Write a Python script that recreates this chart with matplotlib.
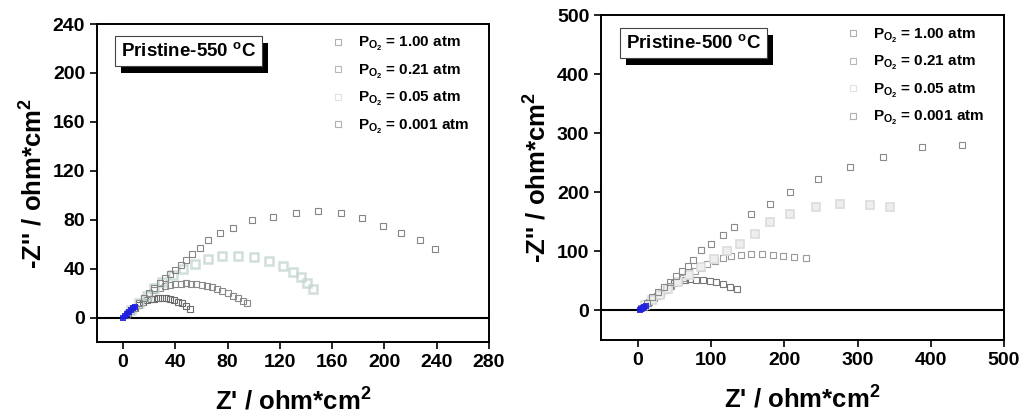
import numpy as np
import matplotlib.pyplot as plt
from matplotlib import patheffects

plt.rcParams['font.family'] = 'Liberation Sans'
plt.rcParams['font.weight'] = 'bold'
plt.rcParams['mathtext.fontset'] = 'custom'
plt.rcParams['mathtext.rm'] = 'Liberation Sans:bold'
plt.rcParams['mathtext.it'] = 'Liberation Sans:bold'
plt.rcParams['mathtext.bf'] = 'Liberation Sans:bold'

labels = [r'$P_{O_2}$ = 1.00 atm', r'$P_{O_2}$ = 0.21 atm',
          r'$P_{O_2}$ = 0.05 atm', r'$P_{O_2}$ = 0.001 atm']

# Pristine-550 C
x550_100 = [3, 6, 9, 12, 15, 18, 21, 24, 27, 30, 33, 36, 39, 42, 45, 48, 51]
y550_100 = [2, 5, 8, 10.5, 12.5, 14, 15, 15.5, 15.8, 16, 15.8, 15.5, 14.5, 13, 11.5, 9.5, 7]
x550_021 = [4, 8, 12, 16, 20, 24, 28, 32, 36, 40, 44, 48, 52, 56, 60, 64, 68, 72, 76, 80, 84, 88, 92, 95]
y550_021 = [4, 8, 12, 16, 19.5, 22.5, 24.5, 26, 27, 27.5, 27.8, 28, 27.8, 27.5, 27, 26, 25, 23.5, 22, 20, 18, 16, 13.5, 11.5]
x550_005 = [6, 12, 18, 24, 30, 38, 46, 55, 65, 76, 88, 100, 112, 122, 130, 136, 141, 145]
y550_005 = [6, 12, 18, 24, 29, 35, 40, 44, 47.5, 50, 50.5, 49.5, 46, 42, 37, 33, 28, 23]
x550_0001 = [4, 8, 12, 16, 20, 24, 28, 32, 36, 40, 44, 48, 53, 59, 65, 74, 84, 99, 115, 132, 149, 167, 183, 199, 213, 227, 239]
y550_0001 = [4, 8, 12, 16, 20, 24, 28, 32, 35.5, 39, 43, 47, 52, 57, 63, 69, 73, 80, 82, 85.5, 87, 85.5, 81, 75, 69, 63, 56]
x550_hf = [0, 1.5, 3, 4.5, 6, 7.5, 9]
y550_hf = [0, 1.5, 3, 4.5, 6, 7.5, 9]

# Pristine-500 C
x500_100 = [8, 14, 20, 26, 32, 38, 44, 50, 56, 64, 72, 80, 89, 98, 107, 116, 126, 135]
y500_100 = [6, 12, 18, 24, 30, 36, 41, 46, 50, 52, 52.5, 52, 51, 50, 48, 45, 40, 36]
x500_021 = [8, 15, 22, 30, 38, 46, 54, 62, 70, 78, 86, 95, 105, 116, 128, 141, 155, 169, 184, 198, 213, 230]
y500_021 = [7, 14, 21, 28, 35, 42, 49, 55, 61, 66, 72, 78, 84, 89, 92, 94, 95, 95, 94, 92, 90, 88]
x500_005 = [10, 20, 30, 42, 55, 70, 86, 104, 122, 140, 160, 180, 208, 244, 276, 317, 344]
y500_005 = [9, 18, 27, 37, 48, 60, 73, 87, 100, 113, 129, 150, 164, 175, 181, 178, 175]
x500_0001 = [5, 12, 20, 28, 36, 44, 52, 60, 68, 76, 87, 100, 116, 132, 155, 180, 208, 246, 290, 335, 388, 442]
y500_0001 = [5, 13, 22, 31, 40, 49, 58, 67, 76, 86, 102, 113, 127, 141, 164, 181, 200, 223, 243, 260, 277, 280]
x500_hf = [3, 5, 7, 9, 11]
y500_hf = [0, 2, 4, 6, 8]

fig = plt.figure(figsize=(10.24, 4.19), dpi=100)
ax1 = fig.add_axes([0.0947, 0.1838, 0.3828, 0.7589])
ax2 = fig.add_axes([0.5870, 0.1885, 0.3935, 0.7755])

styles550 = [dict(mec='#6a6a6a', mfc='none', ms=5, mew=0.8),
             dict(mec='#8a8a8a', mfc='none', ms=5, mew=0.8),
             dict(mec='#c6d8d1', mfc='none', ms=6, mew=1.8, alpha=0.8),
             dict(mec='#858585', mfc='none', ms=5, mew=0.8)]
styles500 = [dict(mec='#777777', mfc='none', ms=5, mew=0.8),
             dict(mec='#9a9a9a', mfc='none', ms=5, mew=0.8),
             dict(mec='#dcdcdc', mfc='#eeeeee', ms=6, mew=1.2),
             dict(mec='#8a8a8a', mfc='none', ms=5, mew=0.8)]
legend_colors = ['#b0b0b0', '#b8b8b8', '#e2e2e2', '#b0b0b0']


def panel(ax, series, styles, hf, title, xlim, ylim, xticks, yticks, leg_anchor):
    for (x, y), lab, st in zip(series, labels, styles):
        ax.plot(x, y, 's', label=lab, **st)
    ax.plot(hf[0], hf[1], 's', color='#2020e0', ms=5, mew=0, alpha=0.9)
    ax.axhline(0, color='k', lw=1.5, zorder=1)
    ax.set_xlim(xlim)
    ax.set_ylim(ylim)
    ax.set_xticks(xticks)
    ax.set_yticks(yticks)
    ax.tick_params(direction='out', length=5, width=1.2, labelsize=14)
    for lbl in ax.get_xticklabels() + ax.get_yticklabels():
        lbl.set_fontweight('bold')
    for s in ax.spines.values():
        s.set_linewidth(1.4)
    ax.set_xlabel("Z' / ohm*cm$^2$", fontsize=18.5, fontweight='bold', labelpad=12)
    ax.set_ylabel("-Z'' / ohm*cm$^2$", fontsize=18.5, fontweight='bold', labelpad=4)
    t = ax.text(0.062, 0.915, title, transform=ax.transAxes, fontsize=13.5,
                fontweight='bold', ha='left', va='center',
                bbox=dict(boxstyle='square,pad=0.32', fc='white', ec='#444444', lw=0.8))
    t.get_bbox_patch().set_path_effects([
        patheffects.withSimplePatchShadow(offset=(4, -5), shadow_rgbFace='k', alpha=1)])
    leg = ax.legend(loc='upper left', bbox_to_anchor=leg_anchor, frameon=False,
                    prop=dict(size=11, weight='bold'), handlelength=0.8,
                    handletextpad=0.9, labelspacing=0.62, borderpad=0, borderaxespad=0)
    for h, c in zip(leg.legend_handles, legend_colors):
        h.set_markeredgecolor(c)
        h.set_markerfacecolor('none')
        h.set_markeredgewidth(0.8)
        h.set_markersize(5)
        h.set_alpha(1)


panel(ax1,
      [(x550_100, y550_100), (x550_021, y550_021), (x550_005, y550_005), (x550_0001, y550_0001)],
      styles550, (x550_hf, y550_hf), 'Pristine-550 $^{o}$C',
      (-20, 280), (-20, 240), range(0, 281, 40), range(0, 241, 40), (0.60, 0.965))
panel(ax2,
      [(x500_100, y500_100), (x500_021, y500_021), (x500_005, y500_005), (x500_0001, y500_0001)],
      styles500, (x500_hf, y500_hf), 'Pristine-500 $^{o}$C',
      (-50, 500), (-50, 500), range(0, 501, 100), range(0, 501, 100), (0.61, 0.965))

fig.savefig('out.png', dpi=100)
